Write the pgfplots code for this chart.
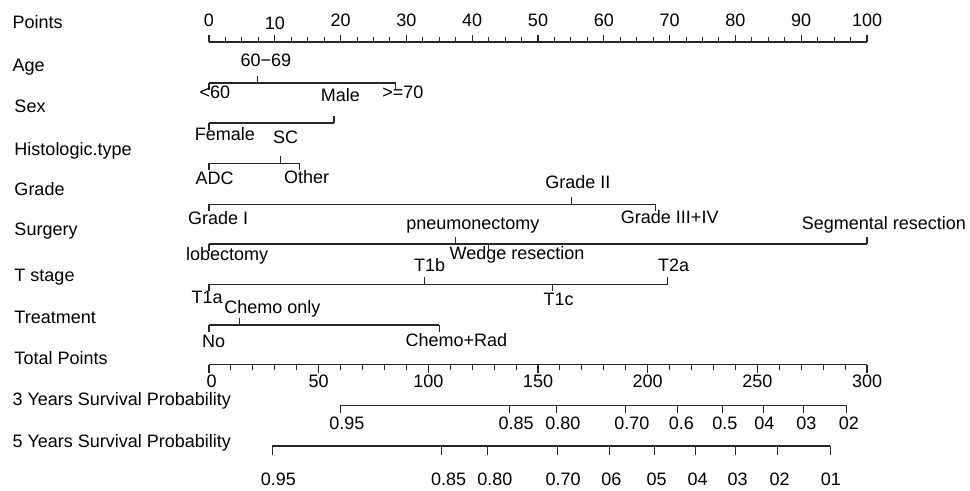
\documentclass[border=0pt]{standalone}
\usepackage{fontspec}
\setmainfont{Liberation Sans}
\usepackage{pgfplots}
\pgfplotsset{compat=1.18}
\tikzset{
  lbl/.style={anchor=base, inner sep=0pt, font=\fontsize{13.5}{16}\selectfont},
  ttl/.style={anchor=base west, inner sep=0pt, font=\fontsize{13.5}{16}\selectfont},
}
\pgfplotsset{
  ln/.style={black!85, line width=0.8pt, solid, mark=none},
  tk/.style={ln, quiver={u=0,v=\thisrow{v}}},
}
\begin{document}
\begin{tikzpicture}
\begin{axis}[
  scale only axis, width=727.5pt, height=368.25pt,
  xmin=-31.763, xmax=115.653, ymin=0, ymax=491, y dir=reverse,
  hide axis, clip=false,
  ]
\path (rel axis cs:0,0) rectangle (rel axis cs:1,1);
% ---------- Points axis ----------
\addplot[ln] coordinates {(0,42) (100,42)};
\addplot[tk] table {
x y v
0 42 -7.3
10 42 -7.3
20 42 -7.3
30 42 -7.3
40 42 -7.3
50 42 -7.3
60 42 -7.3
70 42 -7.3
80 42 -7.3
90 42 -7.3
100 42 -7.3
2.5 42 -4.5
5 42 -4.5
7.5 42 -4.5
12.5 42 -4.5
15 42 -4.5
17.5 42 -4.5
22.5 42 -4.5
25 42 -4.5
27.5 42 -4.5
32.5 42 -4.5
35 42 -4.5
37.5 42 -4.5
42.5 42 -4.5
45 42 -4.5
47.5 42 -4.5
52.5 42 -4.5
55 42 -4.5
57.5 42 -4.5
62.5 42 -4.5
65 42 -4.5
67.5 42 -4.5
72.5 42 -4.5
75 42 -4.5
77.5 42 -4.5
82.5 42 -4.5
85 42 -4.5
87.5 42 -4.5
92.5 42 -4.5
95 42 -4.5
97.5 42 -4.5
};
\node[lbl] at (axis cs:0,27) {0};
\node[lbl] at (axis cs:10,29.5) {10};
\node[lbl] at (axis cs:20,27) {20};
\node[lbl] at (axis cs:30,27) {30};
\node[lbl] at (axis cs:40,27) {40};
\node[lbl] at (axis cs:50,27) {50};
\node[lbl] at (axis cs:60,27) {60};
\node[lbl] at (axis cs:70,27) {70};
\node[lbl] at (axis cs:80,27) {80};
\node[lbl] at (axis cs:90,27) {90};
\node[lbl] at (axis cs:100,27) {100};
% ---------- Age ----------
\addplot[ln] coordinates {(0,83) (28.4,83)};
\addplot[tk] table {
x y v
0 83 7
7.4 83 -7
28.4 83 7
};
\node[lbl] at (axis cs:8.66,66.7) {60−69};
\node[lbl] at (axis cs:0.91,99) {<60};
\node[lbl] at (axis cs:29.48,99) {>=70};
% ---------- Sex ----------
\addplot[ln] coordinates {(0,123) (19.0,123)};
\addplot[tk] table {
x y v
0 123 7
19.0 123 -7
};
\node[lbl] at (axis cs:19.98,101.7) {Male};
\node[lbl] at (axis cs:2.43,140.7) {Female};
% ---------- Histologic type ----------
\addplot[ln] coordinates {(0,163.3) (13.7,163.3)};
\addplot[tk] table {
x y v
0 163.3 7
10.9 163.3 -7
13.7 163.3 7
};
\node[lbl] at (axis cs:11.63,144) {SC};
\node[lbl] at (axis cs:0.84,185) {ADC};
\node[lbl] at (axis cs:14.85,183.3) {Other};
% ---------- Grade ----------
\addplot[ln] coordinates {(0,204.3) (67.9,204.3)};
\addplot[tk] table {
x y v
0 204.3 7
55.1 204.3 -7
67.9 204.3 7
};
\node[lbl] at (axis cs:56.05,188.3) {Grade II};
\node[lbl] at (axis cs:1.37,224.5) {Grade I};
\node[lbl] at (axis cs:70.02,224) {Grade III+IV};
% ---------- Surgery ----------
\addplot[ln] coordinates {(0,244) (100,244)};
\addplot[tk] table {
x y v
0 244 7
37.5 244 -7
42.5 244 7
100 244 -7
};
\node[lbl] at (axis cs:40.09,230) {pneumonectomy};
\node[lbl] at (axis cs:102.58,230) {Segmental resection};
\node[lbl] at (axis cs:2.74,260.5) {lobectomy};
\node[lbl] at (axis cs:46.81,260) {Wedge resection};
% ---------- T stage ----------
\addplot[ln] coordinates {(0,284.3) (69.7,284.3)};
\addplot[tk] table {
x y v
0 284.3 7
32.7 284.3 -7
52.2 284.3 7
69.7 284.3 -7
};
\node[lbl] at (axis cs:33.54,271.7) {T1b};
\node[lbl] at (axis cs:70.62,271.7) {T2a};
\node[lbl] at (axis cs:-0.30,303.3) {T1a};
\node[lbl] at (axis cs:53.15,305.5) {T1c};
% ---------- Treatment ----------
\addplot[ln] coordinates {(0,325) (35.0,325)};
\addplot[tk] table {
x y v
0 325 7
4.7 325 -7
35.0 325 7
};
\node[lbl] at (axis cs:9.65,313.3) {Chemo only};
\node[lbl] at (axis cs:0.71,347.3) {No};
\node[lbl] at (axis cs:37.58,346) {Chemo+Rad};
% ---------- Total points (0-300) ----------
\addplot[ln] table[x expr=\thisrow{tp}/3, y=y] {
tp y
0 364.7
300 364.7
};
\addplot[tk] table[x expr=\thisrow{tp}/3, y=y] {
tp y v
0 364.7 8.5
50 364.7 8.5
100 364.7 8.5
150 364.7 8.5
200 364.7 8.5
250 364.7 8.5
300 364.7 8.5
10 364.7 5
20 364.7 5
30 364.7 5
40 364.7 5
60 364.7 5
70 364.7 5
80 364.7 5
90 364.7 5
110 364.7 5
120 364.7 5
130 364.7 5
140 364.7 5
160 364.7 5
170 364.7 5
180 364.7 5
190 364.7 5
210 364.7 5
220 364.7 5
230 364.7 5
240 364.7 5
260 364.7 5
270 364.7 5
280 364.7 5
290 364.7 5
};
\node[lbl] at (axis cs:0.4,387) {0};
\node[lbl] at (axis cs:16.67,387) {50};
\node[lbl] at (axis cs:33.33,387) {100};
\node[lbl] at (axis cs:50,387) {150};
\node[lbl] at (axis cs:66.67,387) {200};
\node[lbl] at (axis cs:83.33,387) {250};
\node[lbl] at (axis cs:100,387) {300};
% ---------- 3 years survival ----------
\addplot[ln] table[x expr=\thisrow{tp}/3, y=y] {
tp y
60.0 405.3
290.7 405.3
};
\addplot[tk] table[x expr=\thisrow{tp}/3, y=y] {
tp y v
60.0 405.3 8
137.2 405.3 8
158.5 405.3 8
189.8 405.3 8
213.8 405.3 8
234.2 405.3 8
252.9 405.3 8
271.1 405.3 8
290.7 405.3 8
};
\node[lbl] at (axis cs:20.94,429.5) {0.95};
\node[lbl] at (axis cs:46.69,429.5) {0.85};
\node[lbl] at (axis cs:53.77,429.5) {0.80};
\node[lbl] at (axis cs:64.26,429.5) {0.70};
\node[lbl] at (axis cs:71.78,429.5) {0.6};
\node[lbl] at (axis cs:78.39,429.5) {0.5};
\node[lbl] at (axis cs:84.39,429.5) {04};
\node[lbl] at (axis cs:90.78,429.5) {03};
\node[lbl] at (axis cs:97.26,429.5) {02};
% ---------- 5 years survival ----------
\addplot[ln] table[x expr=\thisrow{tp}/3, y=y] {
tp y
28.9 446
283.3 446
};
\addplot[tk] table[x expr=\thisrow{tp}/3, y=y] {
tp y v
28.9 446 9
106.1 446 9
126.9 446 9
158.7 446 9
182.7 446 9
202.9 446 9
221.6 446 9
240.0 446 9
259.3 446 9
283.3 446 9
};
\node[lbl] at (axis cs:10.56,485.5) {0.95};
\node[lbl] at (axis cs:36.40,485.5) {0.85};
\node[lbl] at (axis cs:43.43,485.5) {0.80};
\node[lbl] at (axis cs:53.83,485.5) {0.70};
\node[lbl] at (axis cs:61.14,485.5) {06};
\node[lbl] at (axis cs:68.01,485.5) {05};
\node[lbl] at (axis cs:74.24,485.5) {04};
\node[lbl] at (axis cs:80.32,485.5) {03};
\node[lbl] at (axis cs:86.73,485.5) {02};
\node[lbl] at (axis cs:94.50,485.5) {01};
% ---------- Row titles ----------
\node[ttl] at (axis cs:-29.9,29) {Points};
\node[ttl] at (axis cs:-29.9,71.5) {Age};
\node[ttl] at (axis cs:-29.6,113) {Sex};
\node[ttl] at (axis cs:-29.6,156) {Histologic.type};
\node[ttl] at (axis cs:-29.6,196) {Grade};
\node[ttl] at (axis cs:-29.6,235.7) {Surgery};
\node[ttl] at (axis cs:-29.6,281.7) {T stage};
\node[ttl] at (axis cs:-29.6,324) {Treatment};
\node[ttl] at (axis cs:-29.6,364) {Total Points};
\node[ttl] at (axis cs:-29.9,405.7) {3 Years Survival Probability};
\node[ttl] at (axis cs:-29.9,447) {5 Years Survival Probability};
\end{axis}
\end{tikzpicture}
\end{document}
